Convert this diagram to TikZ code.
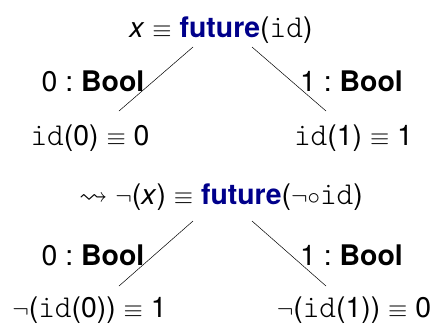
\documentclass[tikz,border=0pt]{standalone}
\usepackage{amssymb}
\usepackage{fontspec}
\setmainfont{TeX Gyre Heros}
\setmonofont{Latin Modern Mono Light}[Scale=1.12]
\definecolor{fut}{RGB}{0,0,139}
\newcommand{\fut}{\textcolor{fut}{\textbf{future}}}
\newcommand{\tid}{\texttt{id}}
\begin{document}
\begin{tikzpicture}[x=1bp,y=-1bp,
  lab/.style={anchor=base,inner sep=0pt,font=\fontsize{28.5}{34}\selectfont},
  edge/.style={draw=black,line width=0.5pt}]
\useasboundingbox (0,0) rectangle (442,324);
% top tree
\node[lab] (r1) at (221,37) {\textit{x}\ $\equiv$\ \fut(\tid)};
\node[lab] (b10) at (93,91) {0\ :\ \textbf{Bool}};
\node[lab] (b11) at (351.5,91) {1\ :\ \textbf{Bool}};
\node[lab] (c10) at (90,145.5) {\tid(0)\ $\equiv$\ 0};
\node[lab] (c11) at (353.5,145.5) {\tid(1)\ $\equiv$\ 1};
\coordinate (p1l) at (193,47);
\coordinate (p1r) at (252,47);
\coordinate (q1l) at (119,111);
\coordinate (q1r) at (326,111);
\draw[edge] (p1l) -- (q1l);
\draw[edge] (p1r) -- (q1r);
% bottom tree
\node[lab] (r2) at (221,204) {$\leadsto$\ $\neg$(\textit{x})\ $\equiv$\ \fut($\neg$$\circ$\tid)};
\node[lab] (b20) at (93,265) {0\ :\ \textbf{Bool}};
\node[lab] (b21) at (351.5,265) {1\ :\ \textbf{Bool}};
\node[lab] (c20) at (89.5,317) {$\neg$(\tid(0))\ $\equiv$\ 1};
\node[lab] (c21) at (354,317) {$\neg$(\tid(1))\ $\equiv$\ 0};
\coordinate (p2l) at (193,221);
\coordinate (p2r) at (252,221);
\coordinate (q2l) at (119,286);
\coordinate (q2r) at (326,286);
\draw[edge] (p2l) -- (q2l);
\draw[edge] (p2r) -- (q2r);
\end{tikzpicture}
\end{document}
